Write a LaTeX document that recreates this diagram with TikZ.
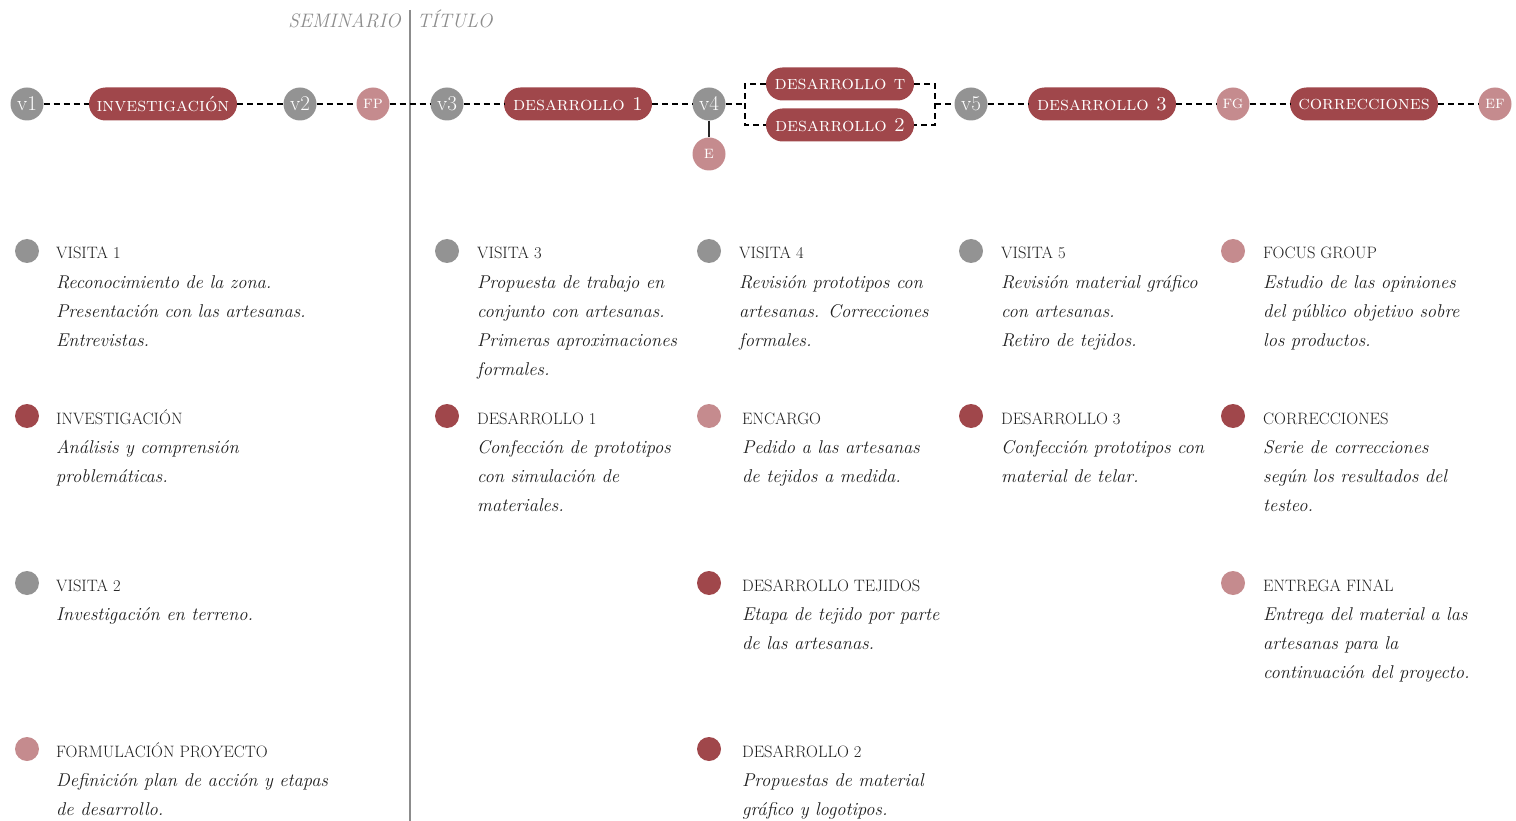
\documentclass[tikz,border=0pt]{standalone}
\usepackage{fontspec}
\definecolor{dred}{HTML}{A0474B}
\definecolor{pink}{HTML}{C58B8E}
\definecolor{vgray}{HTML}{939393}
\definecolor{txt}{HTML}{1E1E1E}
\definecolor{ttl}{HTML}{8C8C8C}
\tikzset{
  pill/.style={draw=none, fill=dred, text=white, rounded corners=16.5pt, minimum width=148pt, minimum height=33pt, inner sep=0pt,
    font=\fontsize{19.5}{22}\selectfont\scshape},
  vis/.style={circle, fill=vgray, text=white, minimum size=33pt, inner sep=0pt, font=\fontsize{21}{22}\selectfont},
  mil/.style={circle, fill=pink, text=white, minimum size=33pt, inner sep=0pt, font=\fontsize{18}{20}\selectfont\scshape},
  link/.style={draw=black, line width=2.8pt, dash pattern=on 6pt off 4pt},
  dot/.style={circle, minimum size=24pt, inner sep=0pt},
  head/.style={anchor=base west, inner sep=0pt, text=txt, font=\fontsize{16.5}{19}\selectfont},
  body/.style={anchor=base west, inner sep=0pt, text=txt, font=\fontsize{18.5}{29}\selectfont\itshape},
}
\newcommand\legitem[7]{%
  \node[dot, fill=#4] (#1-dot) at (#7, #3-8) {};
  \node[head] (#1-h) at (#2,#3) {#5};
  \foreach \l [count=\i] in {#6} {\node[body] (#1-\i) at (#2, {#3+29*\i}) {\l};}
}
\begin{document}
\begin{tikzpicture}[x=1pt, y=-1pt]
\useasboundingbox (0,0) rectangle (1516,821);
% title
\draw[ttl, line width=1.8pt] (410,10) coordinate (sepTop) -- (410,821) coordinate (sepBot);
\node[anchor=base east, inner sep=0pt, text=ttl, font=\fontsize{19.5}{22}\selectfont\itshape] (sem) at (401,28) {SEMINARIO};
\node[anchor=base west, inner sep=0pt, text=ttl, font=\fontsize{19.5}{22}\selectfont\itshape] (tit) at (417,28) {TÍTULO};
% timeline nodes
\node[vis] (v1) at (27,104) {v1};
\node[pill] (inv) at (163,104) {investigación};
\node[vis] (v2) at (300,104) {v2};
\node[mil] (fp) at (373,104) {fp};
\node[vis] (v3) at (447,104) {v3};
\node[pill] (d1) at (578,104) {desarrollo 1};
\node[vis] (v4) at (709,104) {v4};
\node[mil] (e) at (709,154) {e};
\node[pill] (dt) at (840,84) {desarrollo t};
\node[pill] (d2) at (840,125) {desarrollo 2};
\node[vis] (v5) at (971,104) {v5};
\node[pill] (d3) at (1102,104) {desarrollo 3};
\node[mil] (fg) at (1233,104) {fg};
\node[pill] (cor) at (1364,104) {correcciones};
\node[mil] (ef) at (1495,104) {ef};
\coordinate (bl) at (745,104);
\coordinate (br) at (935,104);
% connectors
\draw[link] (v1) -- (inv);
\draw[link] (inv) -- (v2);
\draw[link] (v2) -- (fp);
\draw[link] (fp) -- (v3);
\draw[link] (v3) -- (d1);
\draw[link] (d1) -- (v4);
\draw[link] (v4) -- (bl);
\draw[link] (dt.west) -| (bl) |- (d2.west);
\draw[link] (dt.east) -| (br) |- (d2.east);
\draw[link] (br) -- (v5);
\draw[link] (v5) -- (d3);
\draw[link] (d3) -- (fg);
\draw[link] (fg) -- (cor);
\draw[link] (cor) -- (ef);
\draw[black!85, line width=2.8pt] (v4) -- (e);
% legend
\legitem{a1}{56}{259}{vgray}{VISITA 1}{Reconocimiento de la zona.,Presentación con las artesanas.,Entrevistas.}{27}
\legitem{a2}{56}{424}{dred}{INVESTIGACIÓN}{Análisis y comprensión,problemáticas.}{27}
\legitem{a3}{56}{591}{vgray}{VISITA 2}{Investigación en terreno.}{27}
\legitem{a4}{56}{757}{pink}{FORMULACIÓN PROYECTO}{Definición plan de acción y etapas,de desarrollo.}{27}
\legitem{b1}{477}{259}{vgray}{VISITA 3}{Propuesta de trabajo en,conjunto con artesanas.,Primeras aproximaciones,formales.}{447}
\legitem{b2}{477}{424}{dred}{DESARROLLO 1}{Confección de prototipos,con simulación de,materiales.}{447}
\legitem{c1}{739}{259}{vgray}{VISITA 4}{Revisión prototipos con,artesanas. Correcciones,formales.}{709}
\legitem{c2}{742}{424}{pink}{ENCARGO}{Pedido a las artesanas,de tejidos a medida.}{709}
\legitem{c3}{742}{591}{dred}{DESARROLLO TEJIDOS}{Etapa de tejido por parte,de las artesanas.}{709}
\legitem{c4}{742}{757}{dred}{DESARROLLO 2}{Propuestas de material,gráfico y logotipos.}{709}
\legitem{d1}{1001}{259}{vgray}{VISITA 5}{Revisión material gráfico,con artesanas.,Retiro de tejidos.}{971}
\legitem{d2}{1001}{424}{dred}{DESARROLLO 3}{Confección prototipos con,material de telar.}{971}
\legitem{e1}{1263}{259}{pink}{FOCUS GROUP}{Estudio de las opiniones,del público objetivo sobre,los productos.}{1233}
\legitem{e2}{1263}{424}{dred}{CORRECCIONES}{Serie de correcciones,según los resultados del,testeo.}{1233}
\legitem{e3}{1263}{591}{pink}{ENTREGA FINAL}{Entrega del material a las,artesanas para la,continuación del proyecto.}{1233}
\end{tikzpicture}
\end{document}
